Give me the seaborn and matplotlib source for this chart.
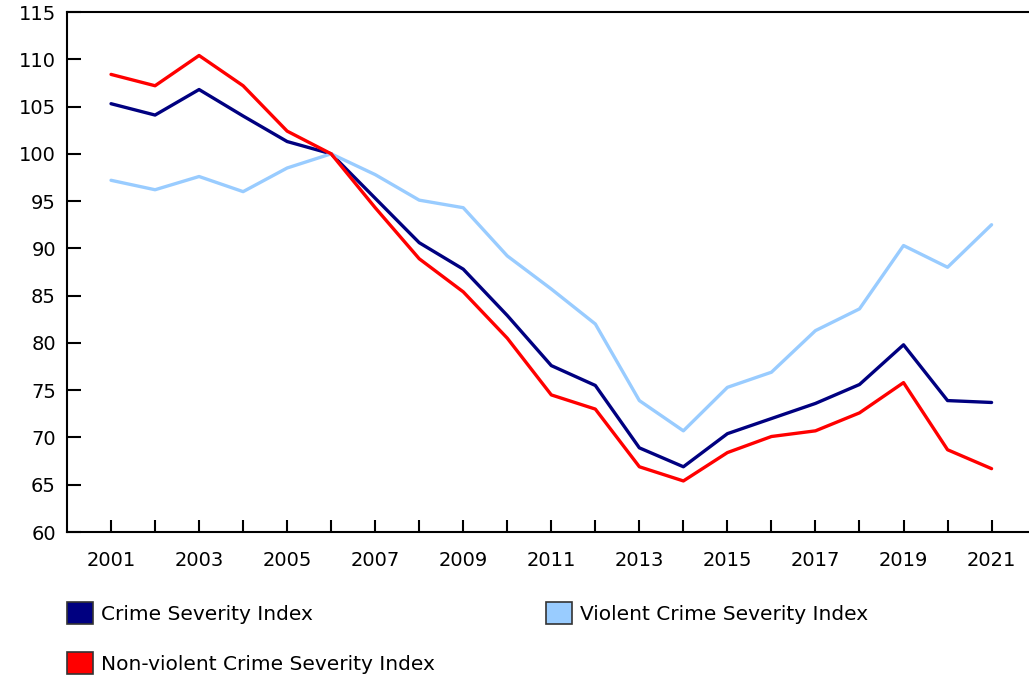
import numpy as np
import pandas as pd
import matplotlib
matplotlib.use("Agg")
import matplotlib.pyplot as plt
from matplotlib.patches import Patch
import seaborn as sns

years = list(range(2001, 2022))
csi = [105.3, 104.1, 106.8, 104.0, 101.3, 100.0, 95.3, 90.6, 87.8, 82.9, 77.6,
       75.5, 68.9, 66.9, 70.4, 72.0, 73.6, 75.6, 79.8, 73.9, 73.7]
violent = [97.2, 96.2, 97.6, 96.0, 98.5, 100.0, 97.8, 95.1, 94.3, 89.2, 85.7,
           82.0, 73.9, 70.7, 75.3, 76.9, 81.3, 83.6, 90.3, 88.0, 92.5]
nonviolent = [108.4, 107.2, 110.4, 107.2, 102.4, 100.0, 94.3, 88.9, 85.4, 80.5, 74.5,
              73.0, 66.9, 65.4, 68.4, 70.1, 70.7, 72.6, 75.8, 68.7, 66.7]
names = ["Crime Severity Index", "Violent Crime Severity Index",
         "Non-violent Crime Severity Index"]
colors = ["#000080", "#99CCFF", "#FF0000"]

df = pd.concat([
    pd.DataFrame({"year": years, "value": csi, "series": names[0]}),
    pd.DataFrame({"year": years, "value": violent, "series": names[1]}),
    pd.DataFrame({"year": years, "value": nonviolent, "series": names[2]}),
])

sns.set_style("ticks")
plt.rcParams["font.family"] = ["DejaVu Sans"]
plt.rcParams["text.color"] = "black"
plt.rcParams["xtick.color"] = "black"
plt.rcParams["ytick.color"] = "black"
plt.rcParams["xtick.direction"] = "in"
plt.rcParams["ytick.direction"] = "in"

fig = plt.figure(figsize=(10.29, 6.76), dpi=100)
ax = fig.add_axes([67/1029, 1 - 532/676, 1 - 67/1029, (532 - 12)/676])

sns.lineplot(data=df, x="year", y="value", hue="series", hue_order=names,
             palette=colors, linewidth=2.4, ax=ax, legend=False)

ax.set_xlim(2000, 2021.85)
ax.set_ylim(60, 115)
ax.set_yticks(np.arange(60, 116, 5))
ax.set_xticks(years, minor=True)
ax.set_xticks(years[::2])
ax.tick_params(axis="x", which="both", direction="in", length=9, width=1.5,
               labelsize=14, pad=14, color="black", labelcolor="black",
               bottom=True, top=False)
ax.tick_params(axis="y", which="major", direction="in", length=10, width=1.5,
               labelsize=14, pad=8, color="black", labelcolor="black",
               left=True, right=False)
ax.tick_params(axis="y", which="minor", left=False, right=False)
ax.set_xlabel("")
ax.set_ylabel("")
for s in ["left", "bottom", "top"]:
    ax.spines[s].set_visible(True)
    ax.spines[s].set_color("black")
    ax.spines[s].set_linewidth(1.5)
ax.spines["right"].set_visible(False)

handles = [Patch(facecolor=colors[0], edgecolor="#333333", linewidth=1.2),
           Patch(facecolor=colors[2], edgecolor="#333333", linewidth=1.2),
           Patch(facecolor=colors[1], edgecolor="#333333", linewidth=1.2)]
labels = [names[0], names[2], names[1]]
leg = fig.legend(handles, labels, loc="upper left",
                 bbox_to_anchor=(59/1029, 1 - 594/676),
                 ncol=2, frameon=False, fontsize=14.5, handlelength=1.3,
                 handleheight=1.3, handletextpad=0.4, columnspacing=5.5,
                 labelspacing=1.38, borderaxespad=0)
for t in leg.get_texts():
    t.set_color("black")

fig.savefig("out.png", dpi=100)
